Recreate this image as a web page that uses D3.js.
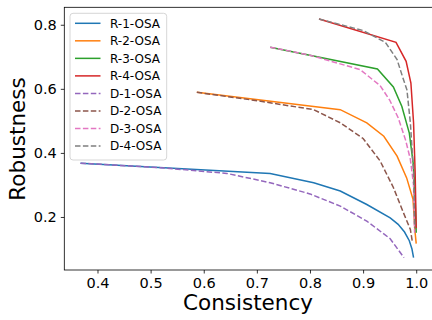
<!DOCTYPE html>
<html>
<head>
<meta charset="utf-8">
<script src="https://cdn.jsdelivr.net/npm/d3@7"></script>
<style>
  body { margin: 0; background: #fff; }
  svg { font-family: "DejaVu Sans", sans-serif; }
</style>
</head>
<body>
<div id="chart"></div>
<script>
// values
const seriesNames = ['R-1-OSA', 'R-2-OSA', 'R-3-OSA', 'R-4-OSA', 'D-1-OSA', 'D-2-OSA', 'D-3-OSA', 'D-4-OSA'];
const seriesColors = ['#1f77b4', '#ff7f0e', '#2ca02c', '#d62728', '#9467bd', '#8c564b', '#e377c2', '#7f7f7f'];

const r1Cons = [0.368, 0.725, 0.807, 0.857, 0.907, 0.951, 0.966, 0.978, 0.987, 0.992, 0.995];
const r1Rob  = [0.368, 0.336, 0.307, 0.281, 0.239, 0.197, 0.177, 0.153, 0.126, 0.100, 0.073];
const r2Cons = [0.587, 0.857, 0.907, 0.939, 0.964, 0.982, 0.994, 0.998, 1.0];
const r2Rob  = [0.589, 0.535, 0.494, 0.452, 0.390, 0.322, 0.255, 0.150, 0.117];
const r3Cons = [0.725, 0.927, 0.957, 0.973, 0.987, 0.995, 0.998, 1.0];
const r3Rob  = [0.730, 0.662, 0.606, 0.545, 0.462, 0.359, 0.255, 0.151];
const r4Cons = [0.817, 0.962, 0.981, 0.990, 0.995, 0.998, 1.0];
const r4Rob  = [0.818, 0.745, 0.686, 0.618, 0.494, 0.338, 0.165];

const d1Cons = [0.368, 0.518, 0.6435, 0.725, 0.800, 0.857, 0.907, 0.951, 0.977];
const d1Rob  = [0.368, 0.354, 0.336, 0.307, 0.272, 0.234, 0.187, 0.132, 0.073];
const d2Cons = [0.587, 0.700, 0.807, 0.857, 0.900, 0.932, 0.957, 0.976, 0.989, 0.993];
const d2Rob  = [0.589, 0.563, 0.535, 0.494, 0.445, 0.375, 0.292, 0.213, 0.161, 0.120];
const d3Cons = [0.725, 0.800, 0.8945, 0.932, 0.950, 0.966, 0.980, 0.989, 0.995, 0.997];
const d3Rob  = [0.730, 0.705, 0.660, 0.610, 0.565, 0.510, 0.440, 0.380, 0.300, 0.151];
const d4Cons = [0.817, 0.900, 0.942, 0.964, 0.976, 0.9825, 0.989, 0.995, 0.997];
const d4Rob  = [0.818, 0.782, 0.745, 0.691, 0.629, 0.597, 0.494, 0.338, 0.165];

const xTicks = [0.4, 0.5, 0.6, 0.7, 0.8, 0.9, 1.0];
const yTicks = [0.2, 0.4, 0.6, 0.8];

const allCons = [r1Cons, r2Cons, r3Cons, r4Cons, d1Cons, d2Cons, d3Cons, d4Cons];
const allRob  = [r1Rob, r2Rob, r3Rob, r4Rob, d1Rob, d2Rob, d3Rob, d4Rob];

const series = seriesNames.map((name, i) => ({
  name,
  color: seriesColors[i],
  dashed: name.startsWith('D'),
  points: allCons[i].map((c, j) => ({ c, r: allRob[i][j] }))
}));

const width = 432, height = 320;
const plot = { left: 64.3, right: 433, top: 7.3, bottom: 270 };

const svg = d3.select('#chart').append('svg')
  .attr('width', width)
  .attr('height', height);

const x = d3.scaleLinear().domain([0.3375, 1.0316]).range([plot.left, plot.right]);
const y = d3.scaleLinear().domain([0.0345, 0.8545]).range([plot.bottom, plot.top]);

const line = d3.line()
  .x(d => x(d.c))
  .y(d => y(d.r));

const g = svg.append('g');

// draw the solid ones first, dashed on top (same as the plot order)
g.selectAll('path.series')
  .data(series)
  .enter()
  .append('path')
  .attr('class', 'series')
  .attr('d', d => line(d.points))
  .attr('fill', 'none')
  .attr('stroke', d => d.color)
  .attr('stroke-width', 1.5)
  .attr('stroke-dasharray', d => d.dashed ? '5.5,2.4' : null);

// axes
const xAxis = svg.append('g')
  .attr('transform', `translate(0,${plot.bottom})`)
  .call(d3.axisBottom(x).tickValues(xTicks).tickFormat(d3.format('.1f')).tickSizeOuter(0).tickSize(3.5).tickPadding(4));
const yAxis = svg.append('g')
  .attr('transform', `translate(${plot.left},0)`)
  .call(d3.axisLeft(y).tickValues(yTicks).tickFormat(d3.format('.1f')).tickSizeOuter(0).tickSize(3.5).tickPadding(4));

[xAxis, yAxis].forEach(a => {
  a.select('.domain').remove();
  a.selectAll('.tick line').attr('stroke', '#000').attr('stroke-width', 0.8);
  a.selectAll('.tick text')
    .attr('fill', '#000')
    .style('font-family', '"DejaVu Sans", sans-serif')
    .style('font-size', '14.5px');
});

// frame
svg.append('rect')
  .attr('x', plot.left)
  .attr('y', plot.top)
  .attr('width', plot.right - plot.left)
  .attr('height', plot.bottom - plot.top)
  .attr('fill', 'none')
  .attr('stroke', '#000')
  .attr('stroke-width', 0.8);

svg.append('text')
  .attr('x', 248)
  .attr('y', 310)
  .attr('text-anchor', 'middle')
  .style('font-size', '21.5px')
  .text('Consistency');

svg.append('text')
  .attr('transform', 'translate(25,139) rotate(-90)')
  .attr('text-anchor', 'middle')
  .style('font-size', '21.5px')
  .text('Robustness');

// legend
const legend = svg.append('g');
legend.append('rect')
  .attr('x', 70).attr('y', 13.3)
  .attr('width', 96.7).attr('height', 146.7)
  .attr('rx', 3)
  .attr('fill', '#fff').attr('fill-opacity', 0.8)
  .attr('stroke', '#ccc').attr('stroke-width', 0.8);

const entry = legend.selectAll('g.entry')
  .data(series)
  .enter()
  .append('g')
  .attr('transform', (d, i) => `translate(0,${23.3 + i * 17.53})`);

entry.append('line')
  .attr('x1', 75).attr('x2', 100.5)
  .attr('stroke', d => d.color)
  .attr('stroke-width', 1.5)
  .attr('stroke-dasharray', d => d.dashed ? '5.5,2.4' : null);

entry.append('text')
  .attr('x', 110)
  .attr('dy', '0.36em')
  .style('font-size', '12px')
  .text(d => d.name);
</script>
</body>
</html>
